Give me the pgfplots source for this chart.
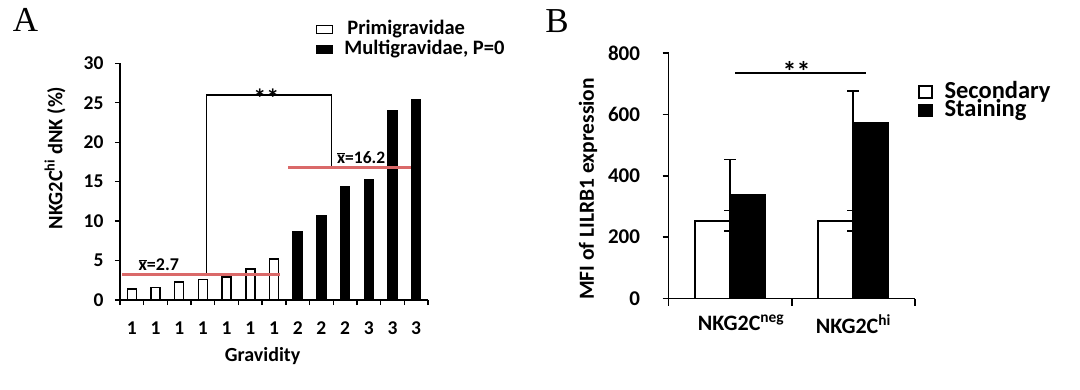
\documentclass[border=0pt]{standalone}
\usepackage{pgfplots}
\pgfplotsset{compat=1.18}
\usepackage{fontspec}
\setmainfont{Carlito}
\newfontfamily\seriffont{Liberation Serif}
\definecolor{meanred}{RGB}{218,105,105}
\newcommand{\xbar}{$\overline{\mbox{x}}$}
\begin{document}
\begin{tikzpicture}[x=1pt,y=1pt]
\path[use as bounding box] (0,0) rectangle (1080,389);
\node[font=\seriffont\fontsize{35}{35}\selectfont, anchor=base] at (25.5,357) {A};
\node[font=\seriffont\fontsize{35}{35}\selectfont, anchor=base] at (557,356) {B};

% ---------------- Panel A ----------------
\begin{axis}[
  at={(120pt,89pt)}, anchor=south west,
  scale only axis, width=308pt, height=236.7pt,
  xmin=-0.5, xmax=12.5, ymin=0, ymax=30,
  axis x line*=bottom, axis y line*=left,
  axis line style={line width=1.6pt, -},
  clip=false,
  ytick={0,5,...,30},
  yticklabel shift=8pt,
  xtick={0,...,12}, xticklabels={1,1,1,1,1,1,1,2,2,2,3,3,3},
  minor xtick={-0.5,0.5,...,12.5},
  major x tick style={draw=none},
  tick align=outside, major tick length=5pt, minor tick length=5pt,
  every tick/.style={line width=1.4pt, black},
  /pgf/number format/assume math mode=true,
  tick label style={font=\bfseries\fontsize{19.5}{19.5}\selectfont},
  xticklabel shift=13pt,
  ylabel={NKG2C\textsuperscript{hi} dNK (\%)},
  every axis y label/.style={at={(axis description cs:-0.211,0.6)}, rotate=90, anchor=center, font=\bfseries\fontsize{20.5}{20.5}\selectfont},
  xlabel={Gravidity},
  every axis x label/.style={at={(axis description cs:0.463,-0.237)}, anchor=center, font=\bfseries\fontsize{20}{20}\selectfont},
  legend style={at={(axis description cs:0.636,1.176)}, anchor=north west, draw=none, fill=none,
    font=\bfseries\fontsize{20.5}{20.5}\selectfont, row sep=3pt, column sep=14pt, cells={anchor=west},
    inner sep=0pt, nodes={inner sep=0pt, text height=13pt, text depth=4pt}},
  legend image code/.code={\draw[#1, line width=1.4pt] (0pt,-3pt) rectangle (16pt,5pt);},
]
\addplot[ybar, bar width=9pt, bar shift=0pt, fill=white, draw=black, line width=1.5pt]
  coordinates {(0,1.4) (1,1.6) (2,2.3) (3,2.6) (4,2.9) (5,3.9) (6,5.2)};
\addlegendentry{Primigravidae}
\addplot[ybar, bar width=9pt, bar shift=0pt, fill=black, draw=black, line width=1.5pt]
  coordinates {(7,8.7) (8,10.7) (9,14.3) (10,15.2) (11,24.0) (12,25.4)};
\addlegendentry{\hspace*{-3pt}Multigravidae, P=0}
% bracket
\addplot[forget plot, black, line width=1.4pt] coordinates {(3.16,3.4) (3.16,26.0) (8.42,26.0) (8.42,16.9)};
% mean lines
\addplot[forget plot, meanred, line width=2.6pt] coordinates {(-0.42,3.2) (6.27,3.2)};
\addplot[forget plot, meanred, line width=2.6pt] coordinates {(6.61,16.8) (11.78,16.8)};
\node[font=\bfseries\fontsize{26}{26}\selectfont, anchor=south] at (axis cs:5.68,24.0) {**};
\node[font=\bfseries\fontsize{18}{18}\selectfont, inner sep=1pt] at (axis cs:1.14,4.44) {\xbar=2.7};
\node[font=\bfseries\fontsize{17.5}{17.5}\selectfont, fill=white, inner sep=1pt] at (axis cs:9.68,18.05) {\xbar=16.2};
\end{axis}

% ---------------- Panel B ----------------
\begin{axis}[
  at={(668.5pt,90.5pt)}, anchor=south west,
  scale only axis, width=246.5pt, height=245.5pt,
  xmin=-0.5, xmax=1.5, ymin=0, ymax=800,
  axis x line*=bottom, axis y line*=left,
  axis line style={line width=1.8pt, -},
  clip=false,
  ytick={0,200,...,800},
  yticklabel shift=19pt,
  xtick={0,1}, xticklabels={\hspace*{22pt}NKG2C\textsuperscript{neg}, NKG2C\textsuperscript{hi}},
  minor xtick={-0.5,0.5,1.5},
  major x tick style={draw=none},
  tick align=outside, major tick length=6pt, minor tick length=7pt,
  every tick/.style={line width=1.6pt, black},
  /pgf/number format/assume math mode=true,
  yticklabel style={font=\bfseries\fontsize{21}{21}\selectfont},
  xticklabel style={font=\bfseries\fontsize{22}{22}\selectfont},
  xticklabel shift=7pt,
  ylabel={MFI of LILRB1 expression},
  every axis y label/.style={at={(axis description cs:-0.327,0.446)}, rotate=90, anchor=center, font=\bfseries\fontsize{21.5}{21.5}\selectfont},
  legend style={at={(axis description cs:1.012,0.874)}, anchor=north west, draw=none, fill=none,
    font=\bfseries\fontsize{24.5}{24.5}\selectfont, row sep=0.5pt, column sep=12pt, cells={anchor=west},
    inner sep=0pt, nodes={inner sep=0pt, text height=14pt, text depth=4pt}},
  legend image code/.code={\draw[#1, line width=1.4pt] (0pt,-5pt) rectangle (13pt,7pt);},
]
\addplot[ybar, bar width=35pt, bar shift=-17.5pt, fill=white, draw=black, line width=1.8pt,
  error bars/.cd, y dir=both, y explicit,
  error bar style={line width=1.8pt, black},
  error mark options={rotate=90, mark size=6pt, line width=1.8pt, black}]
  coordinates {(0,253) +- (0,34) (1,253) +- (0,34)};
\addlegendentry{Secondary}
\addplot[ybar, bar width=35pt, bar shift=17.5pt, fill=black, draw=black, line width=1.8pt,
  error bars/.cd, y dir=plus, y explicit,
  error bar style={line width=1.8pt, black},
  error mark options={rotate=90, mark size=6pt, line width=1.8pt, black}]
  coordinates {(0,337) +- (0,116) (1,572) +- (0,105)};
\addlegendentry{Staining}
\addplot[forget plot, black, line width=1.6pt] coordinates {(0.04,734) (1.10,734)};
\node[font=\bfseries\fontsize{28}{28}\selectfont, anchor=south] at (axis cs:0.54,697) {**};
\end{axis}
\end{tikzpicture}
\end{document}
